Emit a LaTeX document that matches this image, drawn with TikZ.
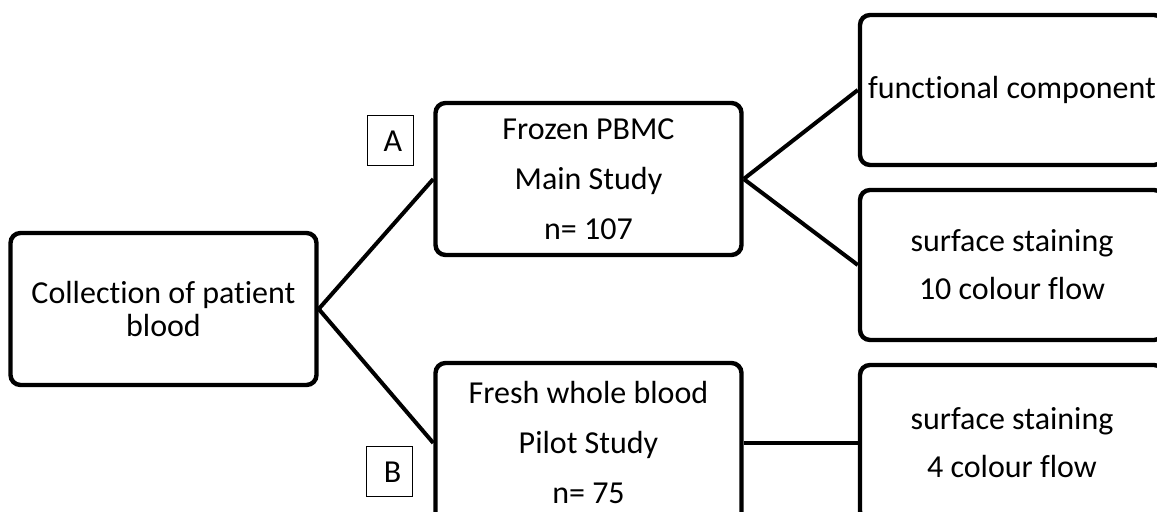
\documentclass[tikz,border=0pt]{standalone}
\usepackage{fontspec}
\setmainfont[Ligatures=CommonOff]{Carlito}

\begin{document}
\begin{tikzpicture}[x=0.5pt, y=-0.5pt,
    stagebox/.style={draw, line width=2.2pt, rounded corners=5pt, align=center,
        minimum width=153pt, minimum height=76pt, inner sep=0pt},
    tagbox/.style={draw, line width=0.5pt, minimum width=23pt, minimum height=25pt,
        inner sep=0pt, font=\fontsize{16}{18}\selectfont},
    link/.style={line width=2pt}]
    \useasboundingbox (0,0) rectangle (1157,512);
    \clip (0,0) rectangle (1157,512);
    % stages
    \node[stagebox, font=\fontsize{16}{16.5}\selectfont] (collect) at (163.5,309) {Collection of patient\\blood};
    \node[stagebox, font=\fontsize{16}{25}\selectfont] (frozen) at (588.5,179) {Frozen PBMC\\Main Study\\n= 107};
    \node[stagebox, font=\fontsize{16}{25}\selectfont, minimum height=80pt] (fresh) at (588.5,443) {Fresh whole blood\\Pilot Study\\n= 75};
    \node[stagebox, font=\fontsize{16}{18}\selectfont, minimum width=152pt, minimum height=75pt] (functional) at (1012,90) {functional component};
    \node[stagebox, font=\fontsize{16}{24}\selectfont, minimum width=152pt, minimum height=75pt] (surfaceten) at (1012,265) {surface staining\\10 colour flow};
    \node[stagebox, font=\fontsize{16}{24}\selectfont, minimum width=152pt, minimum height=78pt] (surfacefour) at (1012,443) {surface staining\\4 colour flow};
    % tags
    \node[tagbox] (tagA) at (390,141) {\hspace{3pt}A};
    \node[tagbox] (tagB) at (389.5,472) {\hspace{3pt}B};
    % links
    \draw[link] (collect.east) -- (frozen.west);
    \draw[link] (collect.east) -- (fresh.west);
    \draw[link] (frozen.east) -- (functional.west);
    \draw[link] (frozen.east) -- (surfaceten.west);
    \draw[link] (fresh.east) -- (surfacefour.west);
\end{tikzpicture}
\end{document}
